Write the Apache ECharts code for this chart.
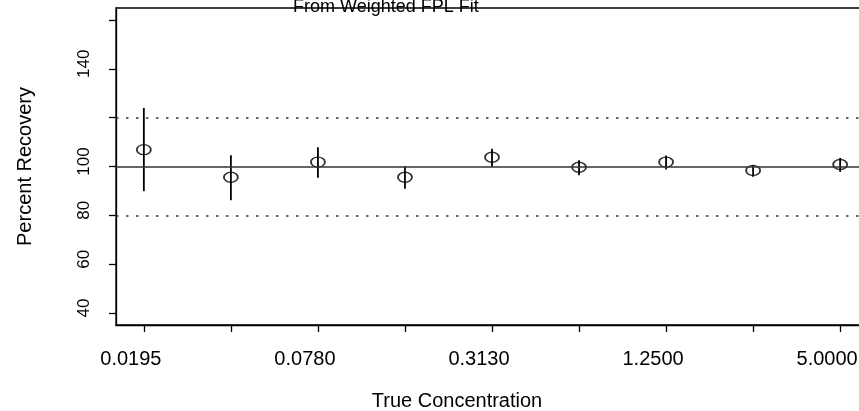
<!DOCTYPE html>
<html>
<head>
<meta charset="utf-8">
<script src="https://cdn.jsdelivr.net/npm/echarts@6/dist/echarts.min.js"></script>
<style>
  html, body { margin: 0; padding: 0; background: #fff; }
  #main { width: 859px; height: 411px; }
</style>
</head>
<body>
<div id="main"></div>
<script>
// concentrations on the x axis (only every other one is labelled)
const concentrations = ['0.0195', '0.0390', '0.0780', '0.1560', '0.3130', '0.6250', '1.2500', '2.5000', '5.0000']
const recovery = [106.9, 95.6, 101.8, 95.6, 103.8, 99.7, 101.8, 98.4, 100.8]
const lower = [89.9, 86.2, 95.4, 90.9, 99.9, 96.4, 98.8, 95.8, 97.8]
const upper = [124.0, 104.6, 107.9, 100.1, 107.3, 102.6, 104.5, 100.4, 103.5]
const yTicks = [40, 60, 80, 100, 120, 140, 160]
const yLabels = [40, 60, 80, 100, 140]
const xLabelIdx = [1, 3, 5, 7, 9]

const chartDom = document.getElementById('main')
const myChart = echarts.init(chartDom)

const font = 'Liberation Sans, Arial, sans-serif'
const points = recovery.map((v, i) => [i + 1, v])
const bars = lower.map((lo, i) => [i + 1, lo, upper[i]])

const option = {
  animation: false,
  title: {
    text: 'From Weighted FPL Fit',
    left: 288,
    top: -7,
    textStyle: { fontFamily: font, fontSize: 18, fontWeight: 'normal', color: '#000' }
  },
  grid: {
    left: 116,
    top: 8,
    width: 752,
    height: 317,
    show: true,
    borderColor: '#000',
    borderWidth: 1.3,
    containLabel: false,
    outerBoundsMode: 'none'
  },
  xAxis: {
    type: 'value',
    min: 0.68,
    max: 9.32,
    name: 'True Concentration',
    nameLocation: 'middle',
    nameGap: 66,
    nameTextStyle: { fontFamily: font, fontSize: 20, color: '#000', padding: [0, 70, 0, 0] },
    splitLine: { show: false },
    axisLine: { show: true, onZero: false, lineStyle: { color: '#000', width: 1.3 } },
    axisTick: { show: true, length: 7, lineStyle: { color: '#000', width: 1.3 }, customValues: concentrations.map((c, i) => i + 1) },
    axisLabel: {
      customValues: xLabelIdx,
      margin: 24,
      padding: [0, 26, 0, 0],
      fontFamily: font,
      fontSize: 20,
      color: '#000',
      formatter: v => concentrations[Math.round(v) - 1]
    }
  },
  yAxis: {
    type: 'value',
    min: 35.1,
    max: 164.9,
    name: 'Percent Recovery',
    nameLocation: 'middle',
    nameGap: 81,
    nameTextStyle: { fontFamily: font, fontSize: 20, color: '#000' },
    splitLine: { show: false },
    axisLine: { show: true, lineStyle: { color: '#000', width: 1.3 } },
    axisTick: { show: true, length: 7, lineStyle: { color: '#000', width: 1.3 }, customValues: yTicks },
    axisLabel: {
      customValues: yLabels,
      rotate: 90,
      margin: 23,
      padding: [0, 0, 0, 10],
      fontFamily: font,
      fontSize: 17,
      color: '#000'
    }
  },
  series: [
    {
      type: 'custom',
      data: bars,
      renderItem: (params, api) => {
        const x = api.value(0)
        const p1 = api.coord([x, api.value(1)])
        const p2 = api.coord([x, api.value(2)])
        return {
          type: 'line',
          shape: { x1: p1[0], y1: p1[1], x2: p2[0], y2: p2[1] },
          style: { stroke: '#000', lineWidth: 1.8 }
        }
      },
      markLine: {
        silent: true,
        symbol: 'none',
        label: { show: false },
        data: [
          { yAxis: 100, lineStyle: { color: '#333', width: 1.5, type: 'solid' } },
          { yAxis: 80, lineStyle: { color: '#333', width: 1.5, type: [2.5, 7.5] } },
          { yAxis: 120, lineStyle: { color: '#333', width: 1.5, type: [2.5, 7.5] } }
        ]
      }
    },
    {
      type: 'scatter',
      data: points,
      symbol: 'circle',
      symbolSize: [14, 10],
      itemStyle: { color: 'rgba(0,0,0,0)', borderColor: '#000', borderWidth: 1.6 },
      z: 3
    }
  ]
}
option && myChart.setOption(option)
</script>
</body>
</html>
